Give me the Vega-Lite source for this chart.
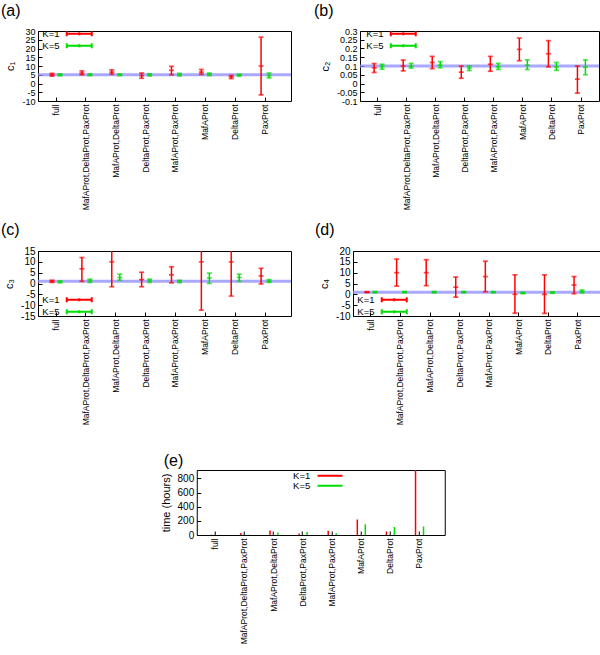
{
  "$schema": "https://vega.github.io/schema/vega-lite/v6.json",
  "padding": {"left": 0, "top": 2, "right": 0, "bottom": 0},
  "background": "white",
  "datasets": {
    "a": [
      {"cat": "full", "K": "K=1", "v": 5, "lo": 4.2, "hi": 5.8},
      {"cat": "full", "K": "K=5", "v": 5, "lo": 4.4, "hi": 5.5},
      {"cat": "MafAProt,DeltaProt,PaxProt", "K": "K=1", "v": 6, "lo": 5, "hi": 7.2},
      {"cat": "MafAProt,DeltaProt,PaxProt", "K": "K=5", "v": 5, "lo": 4.5, "hi": 5.5},
      {"cat": "MafAProt,DeltaProt", "K": "K=1", "v": 6.5, "lo": 5.3, "hi": 7.8},
      {"cat": "MafAProt,DeltaProt", "K": "K=5", "v": 5, "lo": 4.5, "hi": 5.5},
      {"cat": "DeltaProt,PaxProt", "K": "K=1", "v": 4.5, "lo": 3, "hi": 6},
      {"cat": "DeltaProt,PaxProt", "K": "K=5", "v": 5, "lo": 4.3, "hi": 5.6},
      {"cat": "MafAProt,PaxProt", "K": "K=1", "v": 7.5, "lo": 5, "hi": 9.8},
      {"cat": "MafAProt,PaxProt", "K": "K=5", "v": 5, "lo": 4.3, "hi": 5.8},
      {"cat": "MafAProt", "K": "K=1", "v": 6.5, "lo": 5.2, "hi": 8},
      {"cat": "MafAProt", "K": "K=5", "v": 5.3, "lo": 4.5, "hi": 6},
      {"cat": "DeltaProt", "K": "K=1", "v": 3.8, "lo": 2.8, "hi": 4.6},
      {"cat": "DeltaProt", "K": "K=5", "v": 4.8, "lo": 4.2, "hi": 5.3},
      {"cat": "PaxProt", "K": "K=1", "v": 10, "lo": -6.5, "hi": 26.5},
      {"cat": "PaxProt", "K": "K=5", "v": 4.5, "lo": 3.2, "hi": 6}
    ],
    "b": [
      {"cat": "full", "K": "K=1", "v": 0.09, "lo": 0.063, "hi": 0.114},
      {"cat": "full", "K": "K=5", "v": 0.097, "lo": 0.082, "hi": 0.11},
      {"cat": "MafAProt,DeltaProt,PaxProt", "K": "K=1", "v": 0.1, "lo": 0.072, "hi": 0.134},
      {"cat": "MafAProt,DeltaProt,PaxProt", "K": "K=5", "v": 0.1, "lo": 0.088, "hi": 0.115},
      {"cat": "MafAProt,DeltaProt", "K": "K=1", "v": 0.12, "lo": 0.085, "hi": 0.155},
      {"cat": "MafAProt,DeltaProt", "K": "K=5", "v": 0.105, "lo": 0.09, "hi": 0.125},
      {"cat": "DeltaProt,PaxProt", "K": "K=1", "v": 0.065, "lo": 0.03, "hi": 0.1},
      {"cat": "DeltaProt,PaxProt", "K": "K=5", "v": 0.088, "lo": 0.074, "hi": 0.1},
      {"cat": "MafAProt,PaxProt", "K": "K=1", "v": 0.11, "lo": 0.07, "hi": 0.155},
      {"cat": "MafAProt,PaxProt", "K": "K=5", "v": 0.095, "lo": 0.08, "hi": 0.115},
      {"cat": "MafAProt", "K": "K=1", "v": 0.195, "lo": 0.13, "hi": 0.26},
      {"cat": "MafAProt", "K": "K=5", "v": 0.105, "lo": 0.08, "hi": 0.135},
      {"cat": "DeltaProt", "K": "K=1", "v": 0.17, "lo": 0.095, "hi": 0.245},
      {"cat": "DeltaProt", "K": "K=5", "v": 0.095, "lo": 0.075, "hi": 0.12},
      {"cat": "PaxProt", "K": "K=1", "v": 0.025, "lo": -0.055, "hi": 0.1},
      {"cat": "PaxProt", "K": "K=5", "v": 0.093, "lo": 0.05, "hi": 0.135}
    ],
    "c": [
      {"cat": "full", "K": "K=1", "v": 1, "lo": 0.5, "hi": 1.5},
      {"cat": "full", "K": "K=5", "v": 0.8, "lo": 0.3, "hi": 1.2},
      {"cat": "MafAProt,DeltaProt,PaxProt", "K": "K=1", "v": 6.8, "lo": 1, "hi": 12},
      {"cat": "MafAProt,DeltaProt,PaxProt", "K": "K=5", "v": 1.3, "lo": 0.5, "hi": 2},
      {"cat": "MafAProt,DeltaProt", "K": "K=1", "v": 10, "lo": -1.5, "hi": 16},
      {"cat": "MafAProt,DeltaProt", "K": "K=5", "v": 2.8, "lo": 1.5, "hi": 4.3},
      {"cat": "DeltaProt,PaxProt", "K": "K=1", "v": 1.8, "lo": -1.5, "hi": 5.2},
      {"cat": "DeltaProt,PaxProt", "K": "K=5", "v": 1.3, "lo": 0.5, "hi": 2},
      {"cat": "MafAProt,PaxProt", "K": "K=1", "v": 4, "lo": 0.3, "hi": 7.7},
      {"cat": "MafAProt,PaxProt", "K": "K=5", "v": 1, "lo": 0.4, "hi": 1.5},
      {"cat": "MafAProt", "K": "K=1", "v": 10, "lo": -12.3, "hi": 16},
      {"cat": "MafAProt", "K": "K=5", "v": 2.5, "lo": 0, "hi": 4.8},
      {"cat": "DeltaProt", "K": "K=1", "v": 10, "lo": -5.8, "hi": 16},
      {"cat": "DeltaProt", "K": "K=5", "v": 2.8, "lo": 1, "hi": 4.3},
      {"cat": "PaxProt", "K": "K=1", "v": 3.5, "lo": -0.2, "hi": 7},
      {"cat": "PaxProt", "K": "K=5", "v": 1, "lo": 0.5, "hi": 1.8}
    ],
    "d": [
      {"cat": "full", "K": "K=1", "v": 1, "lo": 0.8, "hi": 1.2},
      {"cat": "full", "K": "K=5", "v": 1, "lo": 0.7, "hi": 1.3},
      {"cat": "MafAProt,DeltaProt,PaxProt", "K": "K=1", "v": 10, "lo": 3.8, "hi": 16.3},
      {"cat": "MafAProt,DeltaProt,PaxProt", "K": "K=5", "v": 1, "lo": 0.7, "hi": 1.3},
      {"cat": "MafAProt,DeltaProt", "K": "K=1", "v": 10, "lo": 4, "hi": 16},
      {"cat": "MafAProt,DeltaProt", "K": "K=5", "v": 1, "lo": 0.7, "hi": 1.3},
      {"cat": "DeltaProt,PaxProt", "K": "K=1", "v": 3.3, "lo": -1.3, "hi": 8},
      {"cat": "DeltaProt,PaxProt", "K": "K=5", "v": 1, "lo": 0.7, "hi": 1.3},
      {"cat": "MafAProt,PaxProt", "K": "K=1", "v": 8.2, "lo": 1.2, "hi": 15.3},
      {"cat": "MafAProt,PaxProt", "K": "K=5", "v": 1, "lo": 0.7, "hi": 1.3},
      {"cat": "MafAProt", "K": "K=1", "v": 0, "lo": -8.7, "hi": 9},
      {"cat": "MafAProt", "K": "K=5", "v": 0.6, "lo": 0.3, "hi": 0.9},
      {"cat": "DeltaProt", "K": "K=1", "v": 0, "lo": -8.8, "hi": 9},
      {"cat": "DeltaProt", "K": "K=5", "v": 0.8, "lo": 0.5, "hi": 1.1},
      {"cat": "PaxProt", "K": "K=1", "v": 4.3, "lo": 0.3, "hi": 8.2},
      {"cat": "PaxProt", "K": "K=5", "v": 1.3, "lo": 0.7, "hi": 2}
    ],
    "e": [
      {"cat": "full", "K": "K=1", "t": 2},
      {"cat": "full", "K": "K=5", "t": 2},
      {"cat": "MafAProt,DeltaProt,PaxProt", "K": "K=1", "t": 28},
      {"cat": "MafAProt,DeltaProt,PaxProt", "K": "K=5", "t": 5},
      {"cat": "MafAProt,DeltaProt", "K": "K=1", "t": 62},
      {"cat": "MafAProt,DeltaProt", "K": "K=5", "t": 34},
      {"cat": "DeltaProt,PaxProt", "K": "K=1", "t": 20},
      {"cat": "DeltaProt,PaxProt", "K": "K=5", "t": 42},
      {"cat": "MafAProt,PaxProt", "K": "K=1", "t": 60},
      {"cat": "MafAProt,PaxProt", "K": "K=5", "t": 25},
      {"cat": "MafAProt", "K": "K=1", "t": 218},
      {"cat": "MafAProt", "K": "K=5", "t": 151},
      {"cat": "DeltaProt", "K": "K=1", "t": 50},
      {"cat": "DeltaProt", "K": "K=5", "t": 113},
      {"cat": "PaxProt", "K": "K=1", "t": 950},
      {"cat": "PaxProt", "K": "K=5", "t": 120}
    ]
  },
  "vconcat": [
    {
      "vconcat": [
        {
          "hconcat": [
            {
              "title": {"text": "(a)", "dx": -37},
              "width": 253, "height": 70,
              "layer": [
                {
                  "data": {"values": [{"truth": 5}]},
                  "mark": {"type": "rule", "color": "#8c8cff", "strokeWidth": 3, "opacity": 0.75},
                  "encoding": {"y": {"field": "truth", "type": "quantitative", "scale": {"domain": [-10, 30], "nice": false, "zero": false}, "axis": {"title": "c₁", "values": [-10, -5, 0, 5, 10, 15, 20, 25, 30], "labelExpr": "'' + datum.value", "labelFontSize": 9}}}
                },
                {
                  "data": {"name": "a"},
                  "mark": {"type": "rule", "strokeWidth": 1.5},
                  "encoding": {
                    "x": {"field": "cat", "type": "nominal", "scale": {"domain": ["full", "MafAProt,DeltaProt,PaxProt", "MafAProt,DeltaProt", "DeltaProt,PaxProt", "MafAProt,PaxProt", "MafAProt", "DeltaProt", "PaxProt"], "paddingInner": 0, "paddingOuter": 0.236, "align": 0.22}, "axis": {"title": null}},
                    "xOffset": {"field": "K", "type": "nominal", "scale": {"domain": ["K=1", "K=5"], "paddingInner": 0, "paddingOuter": 0.87}},
                    "y": {"field": "lo", "type": "quantitative", "axis": {"title": "c₁", "values": [-10, -5, 0, 5, 10, 15, 20, 25, 30], "labelExpr": "'' + datum.value", "labelFontSize": 9}},
                    "y2": {"field": "hi"},
                    "color": {"field": "K", "type": "nominal", "scale": {"domain": ["K=1", "K=5"], "range": ["#ff0000", "#00dd00"]}, "legend": {"orient": "none", "legendX": 24, "legendY": -2, "rowPadding": -5}}
                  }
                },
                {
                  "data": {"name": "a"},
                  "transform": [{"fold": ["lo", "hi", "v"], "as": ["part", "val"]}],
                  "mark": {"type": "tick", "thickness": 1.7},
                  "encoding": {
                    "x": {"field": "cat", "type": "nominal"},
                    "xOffset": {"field": "K", "type": "nominal"},
                    "y": {"field": "val", "type": "quantitative", "axis": {"title": "c₁", "values": [-10, -5, 0, 5, 10, 15, 20, 25, 30], "labelExpr": "'' + datum.value", "labelFontSize": 9}},
                    "size": {"field": "part", "type": "nominal", "scale": {"domain": ["lo", "hi", "v"], "range": [5, 5, 4]}, "legend": null},
                    "color": {"field": "K", "type": "nominal", "legend": null}
                  }
                }
              ]
            },
            {
              "title": {"text": "(b)", "dx": -46},
              "width": 239, "height": 70,
              "layer": [
                {
                  "data": {"values": [{"truth": 0.1}]},
                  "mark": {"type": "rule", "color": "#8c8cff", "strokeWidth": 3, "opacity": 0.75},
                  "encoding": {"y": {"field": "truth", "type": "quantitative", "scale": {"domain": [-0.1, 0.3], "nice": false, "zero": false}, "axis": {"title": "c₂", "values": [-0.1, -0.05, 0, 0.05, 0.1, 0.15, 0.2, 0.25, 0.3], "labelExpr": "'' + datum.value", "labelFontSize": 9}}}
                },
                {
                  "data": {"name": "b"},
                  "mark": {"type": "rule", "strokeWidth": 1.5},
                  "encoding": {
                    "x": {"field": "cat", "type": "nominal", "scale": {"domain": ["full", "MafAProt,DeltaProt,PaxProt", "MafAProt,DeltaProt", "DeltaProt,PaxProt", "MafAProt,PaxProt", "MafAProt", "DeltaProt", "PaxProt"], "paddingInner": 0, "paddingOuter": 0.115, "align": 0.48}, "axis": {"title": null}},
                    "xOffset": {"field": "K", "type": "nominal", "scale": {"domain": ["K=1", "K=5"], "paddingInner": 0, "paddingOuter": 0.8}},
                    "y": {"field": "lo", "type": "quantitative", "axis": {"title": "c₂", "values": [-0.1, -0.05, 0, 0.05, 0.1, 0.15, 0.2, 0.25, 0.3], "labelExpr": "'' + datum.value", "labelFontSize": 9}},
                    "y2": {"field": "hi"},
                    "color": {"field": "K", "type": "nominal", "scale": {"domain": ["K=1", "K=5"], "range": ["#ff0000", "#00dd00"]}, "legend": {"orient": "none", "legendX": 26, "legendY": -2, "rowPadding": -5}}
                  }
                },
                {
                  "data": {"name": "b"},
                  "transform": [{"fold": ["lo", "hi", "v"], "as": ["part", "val"]}],
                  "mark": {"type": "tick", "thickness": 1.7},
                  "encoding": {
                    "x": {"field": "cat", "type": "nominal"},
                    "xOffset": {"field": "K", "type": "nominal"},
                    "y": {"field": "val", "type": "quantitative", "axis": {"title": "c₂", "values": [-0.1, -0.05, 0, 0.05, 0.1, 0.15, 0.2, 0.25, 0.3], "labelExpr": "'' + datum.value", "labelFontSize": 9}},
                    "size": {"field": "part", "type": "nominal", "scale": {"domain": ["lo", "hi", "v"], "range": [5, 5, 4]}, "legend": null},
                    "color": {"field": "K", "type": "nominal", "legend": null}
                  }
                }
              ]
            }
          ],
          "resolve": {"scale": {"color": "independent"}, "legend": {"color": "independent"}}
        },
        {
          "hconcat": [
            {
              "title": {"text": "(c)", "dx": -37},
              "width": 253, "height": 65,
              "layer": [
                {
                  "data": {"values": [{"truth": 1}]},
                  "mark": {"type": "rule", "color": "#8c8cff", "strokeWidth": 3, "opacity": 0.75},
                  "encoding": {"y": {"field": "truth", "type": "quantitative", "scale": {"domain": [-15, 15], "nice": false, "zero": false}, "axis": {"title": "c₃", "values": [-15, -10, -5, 0, 5, 10, 15], "labelExpr": "'' + datum.value"}}}
                },
                {
                  "data": {"name": "c"},
                  "mark": {"type": "rule", "strokeWidth": 1.5, "clip": true},
                  "encoding": {
                    "x": {"field": "cat", "type": "nominal", "scale": {"domain": ["full", "MafAProt,DeltaProt,PaxProt", "MafAProt,DeltaProt", "DeltaProt,PaxProt", "MafAProt,PaxProt", "MafAProt", "DeltaProt", "PaxProt"], "paddingInner": 0, "paddingOuter": 0.236, "align": 0.22}, "axis": {"title": null}},
                    "xOffset": {"field": "K", "type": "nominal", "scale": {"domain": ["K=1", "K=5"], "paddingInner": 0, "paddingOuter": 0.87}},
                    "y": {"field": "lo", "type": "quantitative", "axis": {"title": "c₃", "values": [-15, -10, -5, 0, 5, 10, 15], "labelExpr": "'' + datum.value"}},
                    "y2": {"field": "hi"},
                    "color": {"field": "K", "type": "nominal", "scale": {"domain": ["K=1", "K=5"], "range": ["#ff0000", "#00dd00"]}, "legend": {"orient": "none", "legendX": 24, "legendY": 44, "rowPadding": -5}}
                  }
                },
                {
                  "data": {"name": "c"},
                  "transform": [{"fold": ["lo", "hi", "v"], "as": ["part", "val"]}],
                  "mark": {"type": "tick", "thickness": 1.7, "clip": true},
                  "encoding": {
                    "x": {"field": "cat", "type": "nominal"},
                    "xOffset": {"field": "K", "type": "nominal"},
                    "y": {"field": "val", "type": "quantitative", "axis": {"title": "c₃", "values": [-15, -10, -5, 0, 5, 10, 15], "labelExpr": "'' + datum.value"}},
                    "size": {"field": "part", "type": "nominal", "scale": {"domain": ["lo", "hi", "v"], "range": [5, 5, 4]}, "legend": null},
                    "color": {"field": "K", "type": "nominal", "legend": null}
                  }
                }
              ]
            },
            {
              "title": {"text": "(d)", "dx": -38},
              "width": 249, "height": 65,
              "layer": [
                {
                  "data": {"values": [{"truth": 1}]},
                  "mark": {"type": "rule", "color": "#8c8cff", "strokeWidth": 3, "opacity": 0.75},
                  "encoding": {"y": {"field": "truth", "type": "quantitative", "scale": {"domain": [-10, 20], "nice": false, "zero": false}, "axis": {"title": "c₄", "values": [-10, -5, 0, 5, 10, 15, 20], "labelExpr": "'' + datum.value"}}}
                },
                {
                  "data": {"name": "d"},
                  "mark": {"type": "rule", "strokeWidth": 1.5, "clip": true},
                  "encoding": {
                    "x": {"field": "cat", "type": "nominal", "scale": {"domain": ["full", "MafAProt,DeltaProt,PaxProt", "MafAProt,DeltaProt", "DeltaProt,PaxProt", "MafAProt,PaxProt", "MafAProt", "DeltaProt", "PaxProt"], "paddingInner": 0, "paddingOuter": 0.21, "align": 0.25}, "axis": {"title": null}},
                    "xOffset": {"field": "K", "type": "nominal", "scale": {"domain": ["K=1", "K=5"], "paddingInner": 0, "paddingOuter": 0.87}},
                    "y": {"field": "lo", "type": "quantitative", "axis": {"title": "c₄", "values": [-10, -5, 0, 5, 10, 15, 20], "labelExpr": "'' + datum.value"}},
                    "y2": {"field": "hi"},
                    "color": {"field": "K", "type": "nominal", "scale": {"domain": ["K=1", "K=5"], "range": ["#ff0000", "#00dd00"]}, "legend": {"orient": "none", "legendX": 24, "legendY": 44, "rowPadding": -5}}
                  }
                },
                {
                  "data": {"name": "d"},
                  "transform": [{"fold": ["lo", "hi", "v"], "as": ["part", "val"]}],
                  "mark": {"type": "tick", "thickness": 1.7, "clip": true},
                  "encoding": {
                    "x": {"field": "cat", "type": "nominal"},
                    "xOffset": {"field": "K", "type": "nominal"},
                    "y": {"field": "val", "type": "quantitative", "axis": {"title": "c₄", "values": [-10, -5, 0, 5, 10, 15, 20], "labelExpr": "'' + datum.value"}},
                    "size": {"field": "part", "type": "nominal", "scale": {"domain": ["lo", "hi", "v"], "range": [5, 5, 4]}, "legend": null},
                    "color": {"field": "K", "type": "nominal", "legend": null}
                  }
                }
              ]
            }
          ],
          "spacing": 21,
          "resolve": {"scale": {"color": "independent"}, "legend": {"color": "independent"}}
        }
      ],
      "spacing": 10,
      "resolve": {"scale": {"color": "independent"}, "legend": {"color": "independent"}}
    },
    {
      "title": {"text": "(e)", "dx": -33, "offset": 1},
      "width": 248, "height": 65,
      "data": {"name": "e"},
      "mark": {"type": "rule", "strokeWidth": 1.5, "clip": true},
      "encoding": {
        "x": {"field": "cat", "type": "nominal", "scale": {"domain": ["full", "MafAProt,DeltaProt,PaxProt", "MafAProt,DeltaProt", "DeltaProt,PaxProt", "MafAProt,PaxProt", "MafAProt", "DeltaProt", "PaxProt"], "paddingInner": 0, "paddingOuter": 0.26, "align": 0.27}, "axis": {"title": null}},
        "xOffset": {"field": "K", "type": "nominal", "scale": {"domain": ["K=1", "K=5"], "paddingInner": 0, "paddingOuter": 1.14}},
        "y": {"field": "t", "type": "quantitative", "scale": {"domain": [0, 920], "nice": false}, "axis": {"title": "time (hours)", "values": [0, 200, 400, 600, 800]}},
        "y2": {"datum": 0},
        "color": {"field": "K", "type": "nominal", "scale": {"domain": ["K=1", "K=5"], "range": ["#ff0000", "#00dd00"]}, "legend": {"orient": "none", "legendX": 116, "legendY": 1, "symbolType": "M0,0H8.33", "rowPadding": -4}}
      }
    }
  ],
  "spacing": 26,
  "center": true,
  "resolve": {"scale": {"color": "independent"}, "legend": {"color": "independent"}},
  "config": {
    "font": "Liberation Sans",
    "view": {"stroke": "#000", "strokeWidth": 1},
    "title": {"anchor": "start", "frame": "group", "fontSize": 16, "fontWeight": "normal", "font": "Liberation Sans", "offset": 8, "color": "#000"},
    "axis": {"domain": false, "grid": false, "labelFontSize": 10, "labelColor": "#000", "labelOverlap": false, "tickColor": "#000", "tickSize": -4, "labelPadding": 7, "titleFontSize": 11, "titleFontWeight": "normal", "titleColor": "#000", "titlePadding": 6, "labelFont": "Liberation Sans", "titleFont": "Liberation Sans"},
    "axisX": {"labelAngle": -90, "labelAlign": "right", "labelBaseline": "middle", "labelFontSize": 8.5},
    "legend": {"title": null, "symbolType": "M0,0H8.33M0,-0.8V0.8M8.33,-0.8V0.8M4.17,-0.5V0.5", "symbolSize": 36, "symbolStrokeWidth": 2, "labelAlign": "right", "labelOffset": -12, "labelFontSize": 9.5, "labelFont": "Liberation Sans", "padding": 0, "labelColor": "#000"}
  }
}
